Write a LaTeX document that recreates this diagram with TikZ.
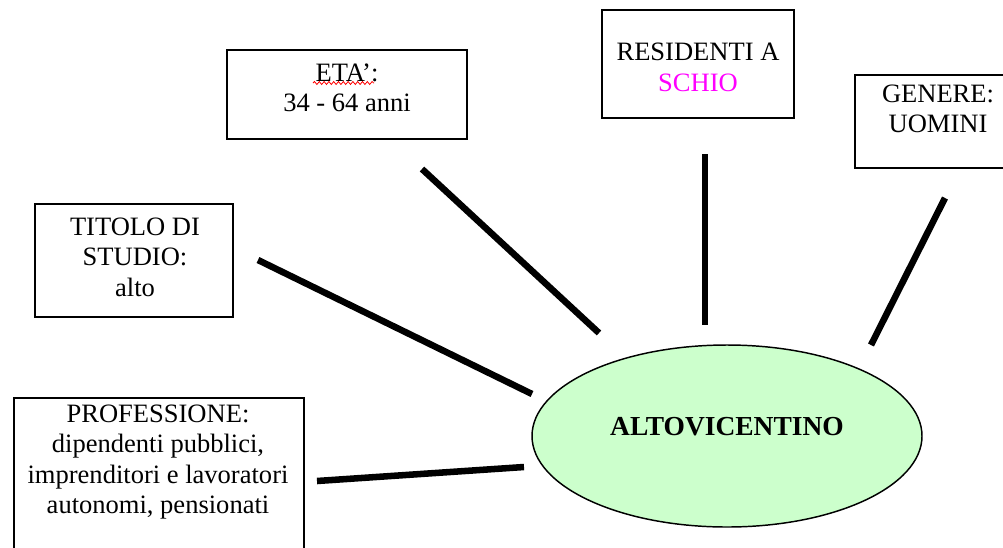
\documentclass[tikz,border=0pt]{standalone}
\usepackage{fontspec}
\setmainfont{Liberation Serif}
\usetikzlibrary{shapes.geometric,decorations.pathmorphing}
\definecolor{palegreen}{HTML}{CCFFCC}
\definecolor{schiopink}{HTML}{FF00FF}
\begin{document}
\begin{tikzpicture}[x=0.75pt,y=-0.75pt,
  infobox/.style={draw=black,line width=1.3pt,rectangle,inner sep=0pt},
  boxtext/.style={inner sep=0pt,align=center,font=\fontsize{19.9}{22.8}\selectfont},
  spoke/.style={line width=4.9pt,line cap=butt,black},
  hub/.style={draw=black,line width=1.1pt,fill=palegreen,ellipse,inner sep=0pt}]
\useasboundingbox (0,0) rectangle (1003,547);
\clip (0,0) rectangle (1003,547);
\fill[white] (0,0) rectangle (1003,547);

% central ellipse
\node[hub,minimum width=292.5pt,minimum height=136.5pt] (hub) at (727,436) {};
\node[inner sep=0pt,font=\fontsize{20.6}{24}\selectfont\bfseries] (hubtext) at (727,427) {ALTOVICENTINO};

% surrounding boxes
\node[infobox,minimum width=180pt,minimum height=66.75pt] (eta) at (347,94.5) {};
\node[boxtext] (etatext) at (347,88) {ETA’:\\34 - 64 anni};
\draw[red,line width=0.6pt,decorate,decoration={snake,amplitude=1.1pt,segment length=3.6pt}]
  (313,83) coordinate (squigA) -- (374,83) coordinate (squigB);

\node[infobox,minimum width=144pt,minimum height=81pt] (res) at (698,64) {};
\node[boxtext] (restext) at (698,67.5) {RESIDENTI A\\\textcolor{schiopink}{SCHIO}};

\node[infobox,minimum width=124.5pt,minimum height=69.75pt] (gen) at (938,121.5) {};
\node[boxtext] (gentext) at (938,109) {GENERE:\\UOMINI};

\node[infobox,minimum width=148.5pt,minimum height=84.75pt] (tit) at (134,260.5) {};
\node[boxtext] (tittext) at (135,257) {TITOLO DI\\STUDIO:\\alto};

\node[infobox,minimum width=217.5pt,minimum height=121.5pt] (pro) at (159,479) {};
\node[boxtext] (protext) at (158,462) {PROFESSIONE:\\dipendenti pubblici,\\imprenditori e lavoratori\\autonomi, pensionati};

% free-standing spokes between the boxes and the ellipse
\coordinate (etaA) at (422,169);  \coordinate (etaB) at (599,333);
\coordinate (resA) at (705,154);  \coordinate (resB) at (705,325);
\coordinate (genA) at (945,198);  \coordinate (genB) at (871,345);
\coordinate (titA) at (258,260);  \coordinate (titB) at (532,394);
\coordinate (proA) at (317,481);  \coordinate (proB) at (524,467);
\draw[spoke] (etaA) -- (etaB);
\draw[spoke] (resA) -- (resB);
\draw[spoke] (genA) -- (genB);
\draw[spoke] (titA) -- (titB);
\draw[spoke] (proA) -- (proB);
\end{tikzpicture}
\end{document}
